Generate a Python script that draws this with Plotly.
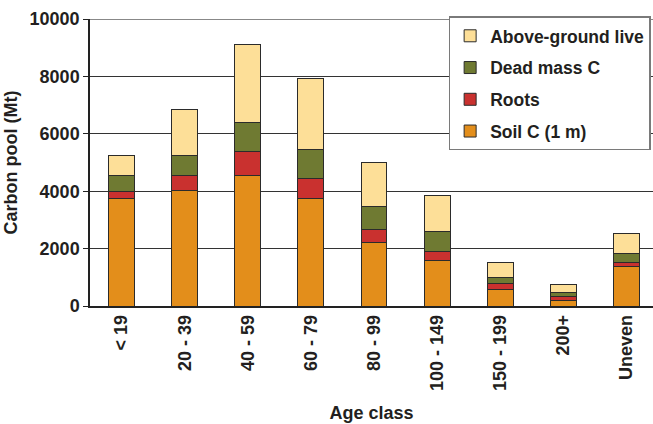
import plotly.graph_objects as go

# Forest carbon pools by stand age class (Mt)
age_classes = ["< 19", "20 - 39", "40 - 59", "60 - 79", "80 - 99",
               "100 - 149", "150 - 199", "200+", "Uneven"]

soil_c = [3760, 4010, 4540, 3760, 2220, 1600, 590, 195, 1360]
roots = [230, 530, 850, 700, 460, 310, 180, 120, 170]
dead_mass_c = [550, 700, 1000, 1010, 780, 700, 240, 140, 310]
above_ground_live = [700, 1620, 2710, 2460, 1540, 1230, 520, 310, 700]

# (name, values, colour, position in legend)
series = [
    ("Soil C (1 m)", soil_c, "#E38E1B", 4),
    ("Roots", roots, "#C9312F", 3),
    ("Dead mass C", dead_mass_c, "#6F7A32", 2),
    ("Above-ground live", above_ground_live, "#FDDF98", 1),
]

text_color = "#231F20"
font_family = "Liberation Sans, Arial, sans-serif"

fig = go.Figure()
for name, values, color, rank in series:
    fig.add_trace(go.Bar(
        x=age_classes,
        y=values,
        name=name,
        legendgroup=name,
        legendrank=rank,
        marker=dict(color=color, line=dict(color="#2b2b2b", width=1)),
    ))

fig.update_layout(
    width=653,
    height=424,
    barmode="stack",
    bargap=0.59,
    plot_bgcolor="white",
    paper_bgcolor="white",
    margin=dict(l=90, r=0, t=19, b=118),
    font=dict(family=font_family, size=18, color=text_color, weight="bold"),
    legend=dict(
        x=0.637, y=1.009, xanchor="left", yanchor="top",
        bgcolor="white",
        bordercolor="#7a7a7a", borderwidth=1.5,
        traceorder="grouped",
        tracegroupgap=6,
        entrywidth=175,
        font=dict(family=font_family, size=17.5, color=text_color, weight="bold"),
    ),
    xaxis=dict(
        range=[-0.5, 8.42],
        tickangle=-90,
        showline=True, linecolor="#222222", linewidth=1.5,
        ticks="",
        showgrid=False,
        tickfont=dict(size=18, weight="bold"),
        title=dict(text="Age class", standoff=16,
                   font=dict(size=18, weight="bold")),
        automargin=False,
    ),
    yaxis=dict(
        range=[0, 10000],
        tickvals=[0, 2000, 4000, 6000, 8000, 10000],
        ticktext=["0", "2000", "4000", "6000", "8000", "10000"],
        showline=True, linecolor="#222222", linewidth=1.5,
        ticks="outside", ticklen=5, tickcolor="#222222", tickwidth=1,
        showgrid=True, gridcolor="#333333", gridwidth=1,
        zeroline=False,
        tickfont=dict(size=18, weight="bold"),
        title=dict(text="Carbon pool (Mt)", standoff=7,
                   font=dict(size=18, weight="bold")),
        automargin=False,
    ),
)

# Upper frame line along the top of the value axis
fig.add_shape(type="line", xref="paper", yref="y", x0=0, x1=1,
              y0=10000, y1=10000, line=dict(color="#888888", width=2),
              layer="below")

fig.write_html("out.html")
